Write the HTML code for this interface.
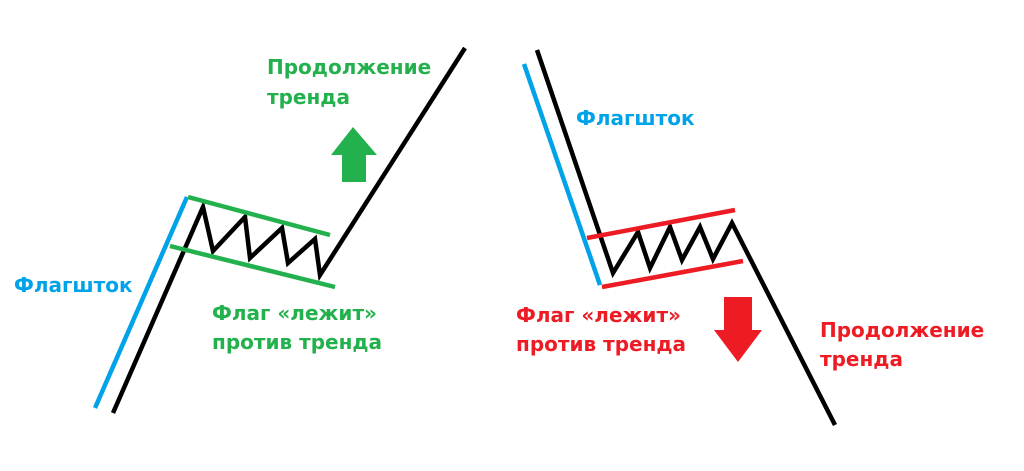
<!DOCTYPE html>
<html><head><meta charset="utf-8"><style>
body{margin:0;background:#fff}
svg{display:block}
text{font-family:"DejaVu Sans","Liberation Sans",sans-serif;font-weight:bold;font-size:20px}
</style></head><body>
<svg width="1024" height="471" viewBox="0 0 1024 471" xmlns="http://www.w3.org/2000/svg">
<g fill="none" stroke-width="4.5" stroke-linejoin="miter">
<line x1="95" y1="408" x2="187" y2="197" stroke="#00a2e8"/>
<polyline points="113,413 203,207 213,251 245,217 250,258 282,228 288,263 315,239 320,275 465,48" stroke="#000"/>
<line x1="188" y1="197" x2="330" y2="235" stroke="#22b14c"/>
<line x1="170" y1="246" x2="335" y2="287" stroke="#22b14c"/>
<line x1="524" y1="64" x2="600" y2="285" stroke="#00a2e8"/>
<polyline points="537,50 613,273 638,232 650,268 670,227 682,260 700,227 713,259 732,223 835,425" stroke="#000"/>
<line x1="587" y1="238" x2="735" y2="210" stroke="#ed1c24"/>
<line x1="602" y1="287" x2="743" y2="261" stroke="#ed1c24"/>
</g>
<polygon points="353,127 331,155 342,155 342,182 366,182 366,155 377,155" fill="#22b14c"/>
<polygon points="724,297 752,297 752,330 762,330 738,362 714,330 724,330" fill="#ed1c24"/>
<g fill="#22b14c">
<text x="267" y="74">Продолжение</text>
<text x="267" y="104">тренда</text>
<text x="212" y="320">Флаг «лежит»</text>
<text x="212" y="349">против тренда</text>
</g>
<g fill="#00a2e8">
<text x="14" y="292">Флагшток</text>
<text x="576" y="125">Флагшток</text>
</g>
<g fill="#ed1c24">
<text x="516" y="322">Флаг «лежит»</text>
<text x="516" y="351">против тренда</text>
<text x="820" y="337">Продолжение</text>
<text x="820" y="366">тренда</text>
</g>
</svg>
</body></html>
